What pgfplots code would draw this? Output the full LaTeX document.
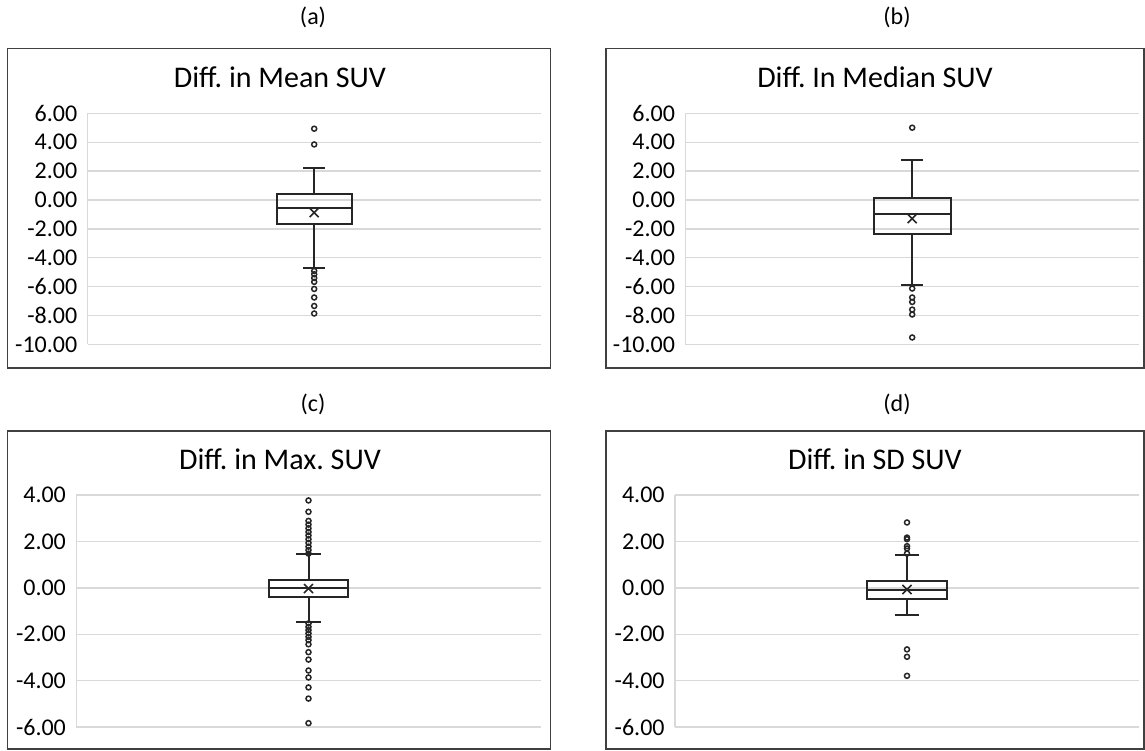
\documentclass[border=0pt]{standalone}
\usepackage{fontspec}
\setmainfont{Carlito}
\usepackage{pgfplots}
\pgfplotsset{compat=1.18}
\usepgfplotslibrary{statistics}
\definecolor{gridc}{HTML}{D9D9D9}
\definecolor{framec}{HTML}{404040}
\definecolor{boxc}{HTML}{262626}
\pgfplotsset{
  panel/.style={
    scale only axis,
    anchor=south west,
    xmin=0.5, xmax=1.5,
    axis x line=none,
    axis y line=left,
    y axis line style={-, draw=gridc, line width=0.65pt},
    ymajorgrids,
    grid style={draw=gridc, line width=0.65pt},
    xtick=\empty,
    major tick length=0pt,
    yticklabel style={font=\fontsize{12}{14}\selectfont, anchor=east, inner sep=0pt, xshift=-5pt},
    clip=false,
    boxplot/draw direction=y,
  },
  boxst/.style={draw=boxc, line width=1pt, solid, mark=none},
  outl/.style={only marks, mark=o, mark size=1.25pt, mark options={draw=boxc, line width=0.75pt, fill=white}},
  meanst/.style={only marks, mark=x, mark size=3.2pt, mark options={draw=boxc, line width=0.8pt}},
}
\frenchspacing
\begin{document}
\frenchspacing
\begin{tikzpicture}
\begin{scope}[x=0.5pt,y=0.5pt]
\path (0,0) rectangle (1145,750);
% frames
\draw[framec, line width=0.65pt] (7.3,701.3) rectangle (550.7,382);
\draw[framec, line width=0.65pt] (606,701.3) rectangle (1144,382);
\draw[framec, line width=0.65pt] (7.3,319) rectangle (550.7,1);
\draw[framec, line width=0.65pt] (606,319) rectangle (1144,1);
% panel labels
\node[font=\fontsize{12}{14}\selectfont] at (313,733) {(a)};
\node[font=\fontsize{12}{14}\selectfont] at (897,733) {(b)};
\node[font=\fontsize{12}{14}\selectfont] at (313,346) {(c)};
\node[font=\fontsize{12}{14}\selectfont] at (897,346) {(d)};
% titles
\node[font=\fontsize{15}{17}\selectfont] at (280,673) {Diff.\ in Mean SUV};
\node[font=\fontsize{15}{17}\selectfont] at (875,673) {Diff.\ In Median SUV};
\node[font=\fontsize{15}{17}\selectfont] at (280,291) {Diff.\ in Max.\ SUV};
\node[font=\fontsize{15}{17}\selectfont] at (875,291) {Diff.\ in SD SUV};
\end{scope}

% (a)
\begin{axis}[panel, at={(43.85pt,202.85pt)}, width=226.5pt, height=115.5pt,
  ymin=-10, ymax=6, ytick={-10,-8,-6,-4,-2,0,2,4,6},
  yticklabels={-10.00,-8.00,-6.00,-4.00,-2.00,0.00,2.00,4.00,6.00}]
\addplot[boxst, boxplot prepared={draw position=1, lower whisker=-4.68, lower quartile=-1.68, median=-0.57, upper quartile=0.39, upper whisker=2.21, box extend=0.166, whisker extend=0.049}] coordinates {};
\addplot[meanst] coordinates {(1,-0.87)};
\addplot[outl] coordinates {(1,4.94) (1,3.85) (1,-4.91) (1,-5.14) (1,-5.40) (1,-5.67) (1,-6.16) (1,-6.75) (1,-7.34) (1,-7.86)};
\end{axis}

% (b)
\begin{axis}[panel, at={(342.7pt,202.85pt)}, width=226.8pt, height=115.5pt,
  ymin=-10, ymax=6, ytick={-10,-8,-6,-4,-2,0,2,4,6},
  yticklabels={-10.00,-8.00,-6.00,-4.00,-2.00,0.00,2.00,4.00,6.00}]
\addplot[boxst, boxplot prepared={draw position=1, lower whisker=-5.86, lower quartile=-2.33, median=-0.94, upper quartile=0.12, upper whisker=2.77, box extend=0.169, whisker extend=0.0485}] coordinates {};
\addplot[meanst] coordinates {(1,-1.29)};
\addplot[outl] coordinates {(1,5.01) (1,-6.13) (1,-6.75) (1,-7.06) (1,-7.59) (1,-7.93) (1,-9.52)};
\end{axis}

% (c)
\begin{axis}[panel, at={(38.15pt,11.5pt)}, width=232.2pt, height=116pt,
  ymin=-6, ymax=4, ytick={-6,-4,-2,0,2,4},
  yticklabels={-6.00,-4.00,-2.00,0.00,2.00,4.00}]
\addplot[boxst, boxplot prepared={draw position=1, lower whisker=-1.49, lower quartile=-0.40, median=-0.01, upper quartile=0.36, upper whisker=1.47, box extend=0.168, whisker extend=0.052}] coordinates {};
\addplot[meanst] coordinates {(1,-0.03)};
\addplot[outl] coordinates {(1,3.77) (1,3.28) (1,2.89) (1,2.73) (1,2.57) (1,2.41) (1,2.26) (1,2.10) (1,1.94) (1,1.78) (1,1.63) (1,1.48)
 (1,-1.53) (1,-1.68) (1,-1.82) (1,-1.96) (1,-2.11) (1,-2.25) (1,-2.43) (1,-2.77) (1,-3.09) (1,-3.56) (1,-3.86) (1,-4.29) (1,-4.77) (1,-5.83)};
\end{axis}

% (d)
\begin{axis}[panel, at={(337.5pt,11.5pt)}, width=232pt, height=116pt,
  ymin=-6, ymax=4, ytick={-6,-4,-2,0,2,4},
  yticklabels={-6.00,-4.00,-2.00,0.00,2.00,4.00}]
\addplot[boxst, boxplot prepared={draw position=1, lower whisker=-1.18, lower quartile=-0.49, median=-0.09, upper quartile=0.30, upper whisker=1.42, box extend=0.171, whisker extend=0.052}] coordinates {};
\addplot[meanst] coordinates {(1,-0.07)};
\addplot[outl] coordinates {(1,2.82) (1,2.17) (1,2.10) (1,1.80) (1,1.70) (1,1.48) (1,-2.65) (1,-2.97) (1,-3.79)};
\end{axis}
\end{tikzpicture}
\end{document}
